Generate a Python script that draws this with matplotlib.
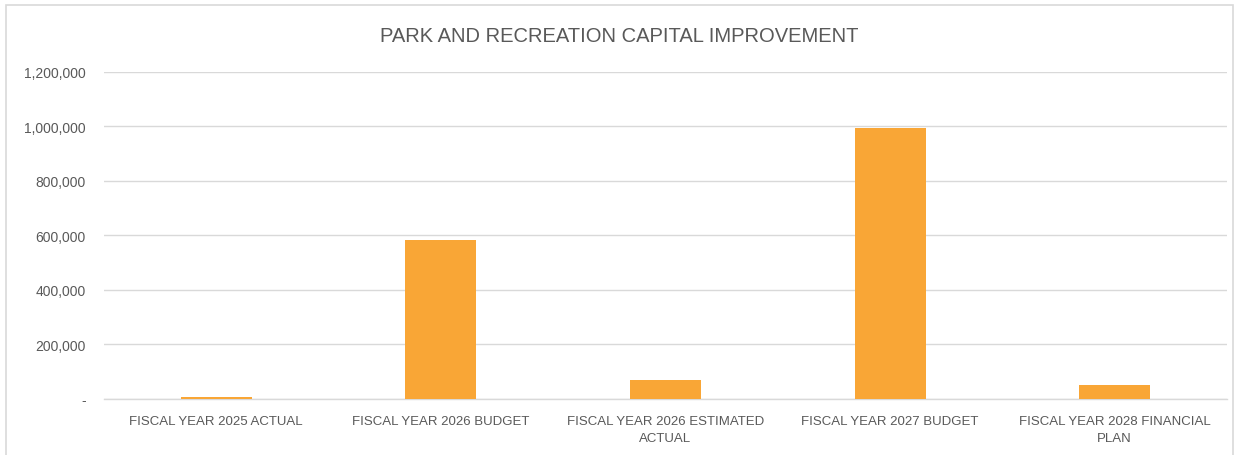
import matplotlib.pyplot as plt
from matplotlib.patches import Rectangle
from matplotlib.ticker import FuncFormatter

# Capital improvement amounts by fiscal year
categories = [
    "FISCAL YEAR 2025 ACTUAL",
    "FISCAL YEAR 2026 BUDGET",
    "FISCAL YEAR 2026 ESTIMATED\nACTUAL",
    "FISCAL YEAR 2027 BUDGET",
    "FISCAL YEAR 2028 FINANCIAL\nPLAN",
]
amounts = [7000, 583000, 68000, 995000, 50000]
y_ticks = [0, 200000, 400000, 600000, 800000, 1000000, 1200000]

BAR_COLOR = '#F9A636'
TEXT_COLOR = '#595959'
GRID_COLOR = '#D9D9D9'

plt.rcParams['font.family'] = ['Liberation Sans', 'DejaVu Sans']

fig = plt.figure(figsize=(12.39, 4.56), dpi=100)
fig.patches.append(Rectangle((6 / 1239, -0.01), 1 - 12 / 1239, 1 - 6 / 456 + 0.01,
                             transform=fig.transFigure, fill=False,
                             edgecolor=GRID_COLOR, linewidth=1.2))

ax = fig.add_axes([104 / 1239, (456 - 399.5) / 456, (1227 - 104) / 1239, (399.5 - 73) / 456])

x = range(len(categories))
ax.bar(x, amounts, width=0.316, color=BAR_COLOR, zorder=3)

ax.set_xlim(-0.5, len(categories) - 0.5)
ax.set_ylim(0, 1200000)
ax.set_yticks(y_ticks)
ax.yaxis.set_major_formatter(FuncFormatter(lambda v, p: '-' if v == 0 else f"{int(v):,}"))
ax.set_xticks(list(x))
ax.set_xticklabels(categories, fontsize=9.5, color=TEXT_COLOR, linespacing=1.55)
ax.tick_params(axis='y', labelsize=10, labelcolor=TEXT_COLOR, length=0, pad=13)
ax.tick_params(axis='x', length=0, pad=12)

ax.grid(axis='y', color=GRID_COLOR, linewidth=1, zorder=0)
for side in ['top', 'right', 'left']:
    ax.spines[side].set_visible(False)
ax.spines['bottom'].set_color(GRID_COLOR)
ax.spines['bottom'].set_linewidth(1)

fig.text(0.5, 1 - 36 / 456, "PARK AND RECREATION CAPITAL IMPROVEMENT",
         ha='center', va='center', fontsize=14.5, color=TEXT_COLOR)

fig.savefig('out.png', dpi=100)
